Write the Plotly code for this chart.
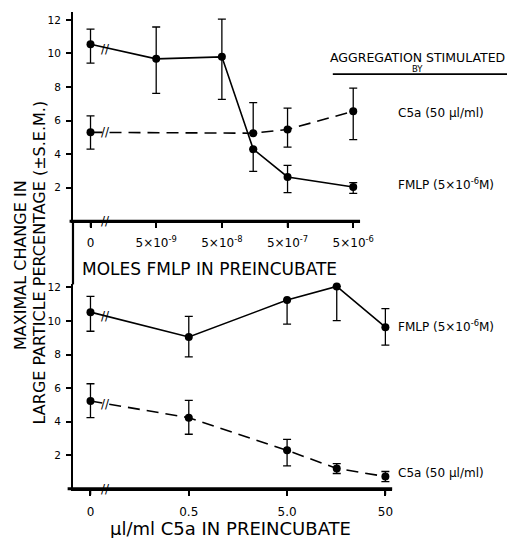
import numpy as np
import plotly.graph_objects as go

# ---------------- data ----------------
fmlp_doses = [0, 5e-9, 5e-8, 1.5e-7, 5e-7, 5e-6]          # moles FMLP in preincubate
top_fmlp = [10.55, 9.68, 9.8, 4.3, 2.64, 2.04]             # stimulated by FMLP
top_fmlp_up = [0.9, 1.9, 2.25, 0.0, 0.69, 0.26]
top_fmlp_dn = [1.12, 2.06, 2.53, 1.33, 0.93, 0.38]
top_c5a = [5.3, None, None, 5.25, 5.47, 6.56]              # stimulated by C5a
top_c5a_up = [0.98, 0, 0, 1.82, 1.27, 1.38]
top_c5a_dn = [1.0, 0, 0, 0.0, 1.05, 1.69]

c5a_doses = [0, 0.5, 5.0, 16, 50]                          # ul/ml C5a in preincubate
bot_fmlp = [10.53, 9.05, 11.25, 12.06, 9.63]
bot_fmlp_up = [0.94, 1.23, 0.0, 0.0, 1.11]
bot_fmlp_dn = [1.14, 1.19, 1.43, 2.04, 1.07]
bot_c5a = [5.23, 4.24, 2.29, 1.21, 0.73]
bot_c5a_up = [1.03, 1.03, 0.66, 0.29, 0.3]
bot_c5a_dn = [0.99, 0.99, 0.92, 0.3, 0.3]

top_ticktext = ['0', '5×10<sup>-9</sup>', '5×10<sup>-8</sup>', '5×10<sup>-7</sup>', '5×10<sup>-6</sup>']
top_tickdoses = [0, 5e-9, 5e-8, 5e-7, 5e-6]
bot_ticktext = ['0', '0.5', '5.0', '50']
bot_tickdoses = [0, 0.5, 5.0, 50]
y_ticks = [2, 4, 6, 8, 10, 12]

# ---------------- layout helpers ----------------
W, H = 521, 538
FONT = "DejaVu Sans"


def px(x):
    return x / W


def py(y):
    return 1 - y / H


def log_pos(doses):
    # log10 dose; the "0" dose sits one decade below the first non-zero dose (axis break)
    z = [d for d in doses if d > 0][0] / 10
    return [float(v) for v in np.log10([d if d > 0 else z for d in doses])]


top_x = log_pos(fmlp_doses)
bot_x = log_pos(c5a_doses)
top_tickx = log_pos(top_tickdoses)
bot_tickx = log_pos(bot_tickdoses)

fig = go.Figure()

line_w = 1.6
BLACK = '#000000'


def series(x, y, up, dn, dash, xa, ya):
    fig.add_trace(go.Scatter(
        x=x, y=y, xaxis=xa, yaxis=ya, mode='lines+markers', connectgaps=True,
        line=dict(color=BLACK, width=line_w, dash=dash),
        marker=dict(color=BLACK, size=8),
        error_y=dict(type='data', symmetric=False, array=up, arrayminus=dn,
                     color=BLACK, thickness=1.3, width=4),
        showlegend=False, hoverinfo='skip', cliponaxis=False))


series(top_x, top_fmlp, top_fmlp_up, top_fmlp_dn, 'solid', 'x', 'y')
series(top_x, top_c5a, top_c5a_up, top_c5a_dn, '12px,7px', 'x', 'y')
series(bot_x, bot_fmlp, bot_fmlp_up, bot_fmlp_dn, 'solid', 'x2', 'y2')
series(bot_x, bot_c5a, bot_c5a_up, bot_c5a_dn, '12px,7px', 'x2', 'y2')

axis_common = dict(showgrid=False, zeroline=False, showline=True, linecolor=BLACK,
                   linewidth=2, ticks='outside', tickcolor=BLACK, tickwidth=1.5,
                   ticklen=5)
xfont = dict(family=FONT, size=12, color=BLACK)
yfont = dict(family=FONT, size=10.5, color=BLACK)

TOP_AX_Y, BOT_AX_Y = 219.5, 488.5

fig.update_layout(
    width=W, height=H, margin=dict(l=0, r=0, t=0, b=0),
    paper_bgcolor='white', plot_bgcolor='rgba(0,0,0,0)',
    xaxis=dict(domain=[px(75), px(370)], type='linear', range=[-9.568, -5.197],
               anchor='y', tickmode='array', tickvals=top_tickx, ticktext=top_ticktext,
               tickfont=xfont, ticklabelstandoff=4, **axis_common),
    yaxis=dict(domain=[py(TOP_AX_Y), py(8.6)], range=[0, 12.5], anchor='x',
               tickmode='array', tickvals=y_ticks, tickfont=yfont, ticklabelstandoff=3,
               **axis_common),
    xaxis2=dict(domain=[px(75), px(403)], type='linear', range=[-1.479, 1.768],
                anchor='y2', tickmode='array', tickvals=bot_tickx, ticktext=bot_ticktext,
                tickfont=xfont, ticklabelstandoff=6, **axis_common),
    yaxis2=dict(domain=[py(BOT_AX_Y), py(282.7)], range=[0, 12.2], anchor='x2',
                tickmode='array', tickvals=y_ticks, tickfont=yfont, ticklabelstandoff=3,
                **axis_common),
)

axis_line = dict(color=BLACK, width=3)
# x-axis lines (drawn explicitly), the vertical axis between panels
for (x0, y0, x1, y1) in [(71.5, TOP_AX_Y, 370, TOP_AX_Y), (69.5, BOT_AX_Y, 403, BOT_AX_Y)]:
    fig.add_shape(type='line', xref='paper', yref='paper', x0=px(x0), x1=px(x1),
                  y0=py(y0), y1=py(y1), line=axis_line, layer='above')
fig.add_shape(type='line', xref='paper', yref='paper', x0=px(75), x1=px(75),
              y0=py(TOP_AX_Y), y1=py(283), line=dict(color=BLACK, width=2.2), layer='above')
# x tick marks at the tick values
for tx in top_tickx:
    fig.add_shape(type='line', xref='x', yref='paper', x0=tx, x1=tx,
                  y0=py(TOP_AX_Y), y1=py(TOP_AX_Y + 6), line=dict(color=BLACK, width=1.6))
for tx in bot_tickx:
    fig.add_shape(type='line', xref='x2', yref='paper', x0=tx, x1=tx,
                  y0=py(BOT_AX_Y), y1=py(BOT_AX_Y + 6), line=dict(color=BLACK, width=1.6))
# legend heading rule
fig.add_shape(type='line', xref='paper', yref='paper', x0=px(342), x1=px(521),
              y0=py(71.5), y1=py(71.5), line=dict(color=BLACK, width=1.6))


def text(s, x, y, size, anchor='center', angle=0):
    fig.add_annotation(text=s, x=px(x), y=py(y), xref='paper', yref='paper',
                       showarrow=False, xanchor=anchor, yanchor='middle', textangle=angle,
                       borderpad=0, font=dict(family=FONT, size=size, color=BLACK))


# axis titles
text('MAXIMAL CHANGE IN', 21, 263, 16, angle=-90)
text('LARGE PARTICLE PERCENTAGE (±S.E.M.)', 41, 261, 16, angle=-90)
text('MOLES FMLP IN PREINCUBATE', 215, 267, 17)
text('µl/ml C5a IN PREINCUBATE', 237, 528, 18)

# legend texts
text('AGGREGATION STIMULATED', 429, 55, 12.5)
text('BY', 429, 66.5, 8.5)
text('C5a (50 µl/ml)', 408, 111, 12, anchor='left')
text('FMLP (5×10<sup>-6</sup>M)', 408, 182, 12, anchor='left')
text('FMLP (5×10<sup>-6</sup>M)', 408, 325, 12, anchor='left')
text('C5a (50 µl/ml)', 408, 473, 12, anchor='left')

# axis-break marks
for (bx, by) in [(108, TOP_AX_Y), (108, 46), (108, 130), (108, BOT_AX_Y), (108, 315), (108, 403)]:
    text('//', bx, by, 12)

fig.write_html("out.html")
